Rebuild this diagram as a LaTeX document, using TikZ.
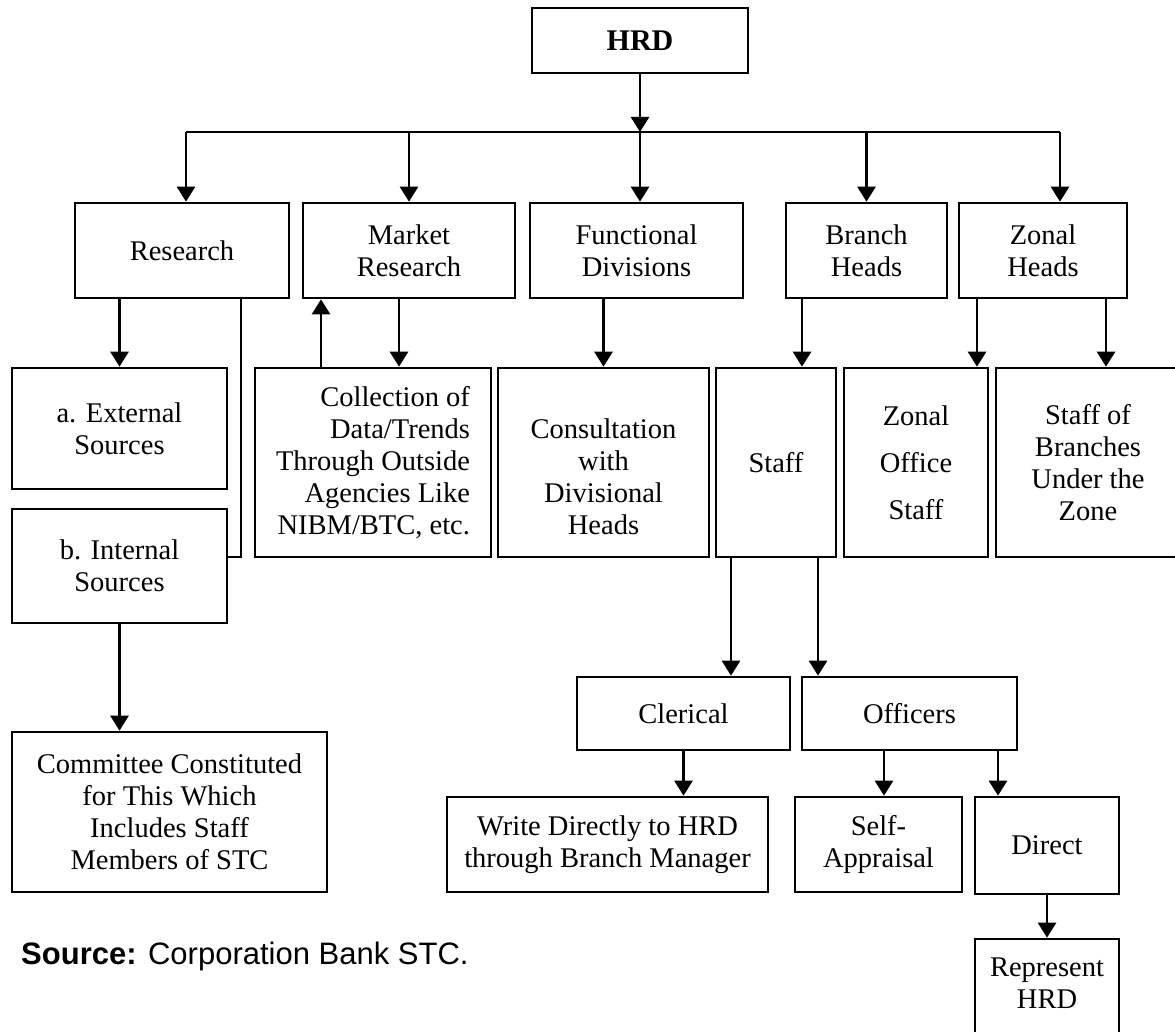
\documentclass[tikz,border=0pt]{standalone}
\usepackage{fontspec}
\setmainfont{Liberation Serif}
\newfontfamily\srcfont{Liberation Sans}
\usetikzlibrary{arrows.meta}

\begin{document}
\begin{tikzpicture}[x=1pt,y=1pt,yscale=-1,
    box/.style={draw, line width=2.6pt, align=center, inner sep=3pt, font=\fontsize{28.5}{32}\selectfont},
    conn/.style={line width=2.6pt, -{Triangle[width=18pt,length=15pt]}},
    link/.style={line width=2.6pt}]
    \useasboundingbox (0,0) rectangle (1175,1032);

    % Top box
    \node[box, minimum width=216pt, minimum height=65pt, font=\fontsize{30}{32}\selectfont\bfseries] (hrd) at (640,40.5) {HRD};

    % First row
    \node[box, minimum width=214pt, minimum height=95pt] (research) at (182,250.5) {Research};
    \node[box, minimum width=212pt, minimum height=95pt] (market) at (409,250.5) {Market\\Research};
    \node[box, minimum width=213pt, minimum height=95pt] (functional) at (636.5,250.5) {Functional\\Divisions};
    \node[box, minimum width=161pt, minimum height=95pt] (branch) at (866.5,250.5) {Branch\\Heads};
    \node[box, minimum width=168pt, minimum height=95pt] (zonal) at (1043,250.5) {Zonal\\Heads};

    % Second row
    \node[box, minimum width=215pt, minimum height=121pt] (external) at (119.5,428.5) {a. External\\Sources};
    \node[box, minimum width=215pt, minimum height=114pt] (internal) at (119.5,566) {b. Internal\\Sources};
    \node[box, minimum width=236pt, minimum height=189pt, align=right] (collection) at (373,462.5) {Collection of\\Data/Trends\\Through Outside\\Agencies Like\\NIBM/BTC, etc.};
    \node[box, minimum width=211pt, minimum height=189pt, text height=145pt] (consult) at (603.5,462.5) {Consultation\\with\\Divisional\\Heads};
    \node[box, minimum width=120pt, minimum height=189pt] (staff) at (776,462.5) {Staff};
    \node[box, minimum width=144pt, minimum height=189pt] (zoffice) at (916,462.5) {Zonal\\[15pt]Office\\[15pt]Staff};
    \node[box, minimum width=184pt, minimum height=189pt] (zbranches) at (1088,462.5) {Staff of\\Branches\\Under the\\Zone};

    % Lower boxes
    \node[box, minimum width=315pt, minimum height=160pt] (committee) at (169.5,812) {Committee Constituted\\for This Which\\Includes Staff\\Members of STC};
    \node[box, minimum width=213pt, minimum height=73pt] (clerical) at (683.5,713.5) {Clerical};
    \node[box, minimum width=215pt, minimum height=73pt] (officers) at (909.5,713.5) {Officers};
    \node[box, minimum width=321pt, minimum height=95pt] (write) at (607.5,844.5) {Write Directly to HRD\\through Branch Manager};
    \node[box, minimum width=167pt, minimum height=95pt] (selfapp) at (878.5,844.5) {Self-\\Appraisal};
    \node[box, minimum width=144pt, minimum height=97pt] (direct) at (1047,845.5) {Direct};
    \node[box, minimum width=144pt, minimum height=106pt, text depth=17pt] (represent) at (1047,992) {Represent\\HRD};

    % Source line
    \node[anchor=west, inner sep=0pt, font=\srcfont\fontsize{31}{34}\selectfont] (source) at (21,956) {\textbf{Source:} Corporation Bank STC.};

    % Bus under HRD
    \coordinate (busL) at (186,132);
    \coordinate (busR) at (1060,132);
    \draw[link] (busL) -- (busR);
    \draw[conn] (hrd) -- (hrd |- busL);
    \draw[conn] (busL) -- (busL |- research.north);
    \draw[conn] (market.north |- busL) -- (market.north);
    \draw[conn] (hrd |- busL) -- (hrd |- functional.north);
    \draw[conn] (branch.north |- busL) -- (branch.north);
    \draw[conn] (busR) -- (busR |- zonal.north);

    % Connector feet
    \coordinate (rbend) at (241,557);
    \path ([xshift=-52pt]collection.north) coordinate (mrUp)
          ([xshift=-10pt]market.south) coordinate (mrDown)
          ([xshift=26pt]staff.north) coordinate (bhDown)
          ([xshift=-66pt]zonal.south) coordinate (zhLeft)
          ([xshift=63pt]zonal.south) coordinate (zhRight)
          ([xshift=-45pt]staff.south) coordinate (stLeft)
          ([xshift=42pt]staff.south) coordinate (stRight)
          ([xshift=-25.5pt]officers.south) coordinate (ofLeft)
          ([xshift=88.5pt]officers.south) coordinate (ofRight);

    % First row to second row
    \draw[conn] (external.north |- research.south) -- (external.north);
    \draw[link] (rbend |- research.south) -- (rbend) -- (rbend -| internal.east);
    \draw[conn] (mrUp) -- (mrUp |- market.south);
    \draw[conn] (mrDown) -- (mrDown |- collection.north);
    \draw[conn] (consult.north |- functional.south) -- (consult.north);
    \draw[conn] (bhDown |- branch.south) -- (bhDown);
    \draw[conn] (zhLeft) -- (zhLeft |- zoffice.north);
    \draw[conn] (zhRight) -- (zhRight |- zbranches.north);

    % Lower connectors
    \draw[conn] (internal) -- (internal |- committee.north);
    \draw[conn] (stLeft) -- (stLeft |- clerical.north);
    \draw[conn] (stRight) -- (stRight |- officers.north);
    \draw[conn] (clerical) -- (clerical |- write.north);
    \draw[conn] (ofLeft) -- (ofLeft |- selfapp.north);
    \draw[conn] (ofRight) -- (ofRight |- direct.north);
    \draw[conn] (direct) -- (represent);

\end{tikzpicture}
\end{document}
